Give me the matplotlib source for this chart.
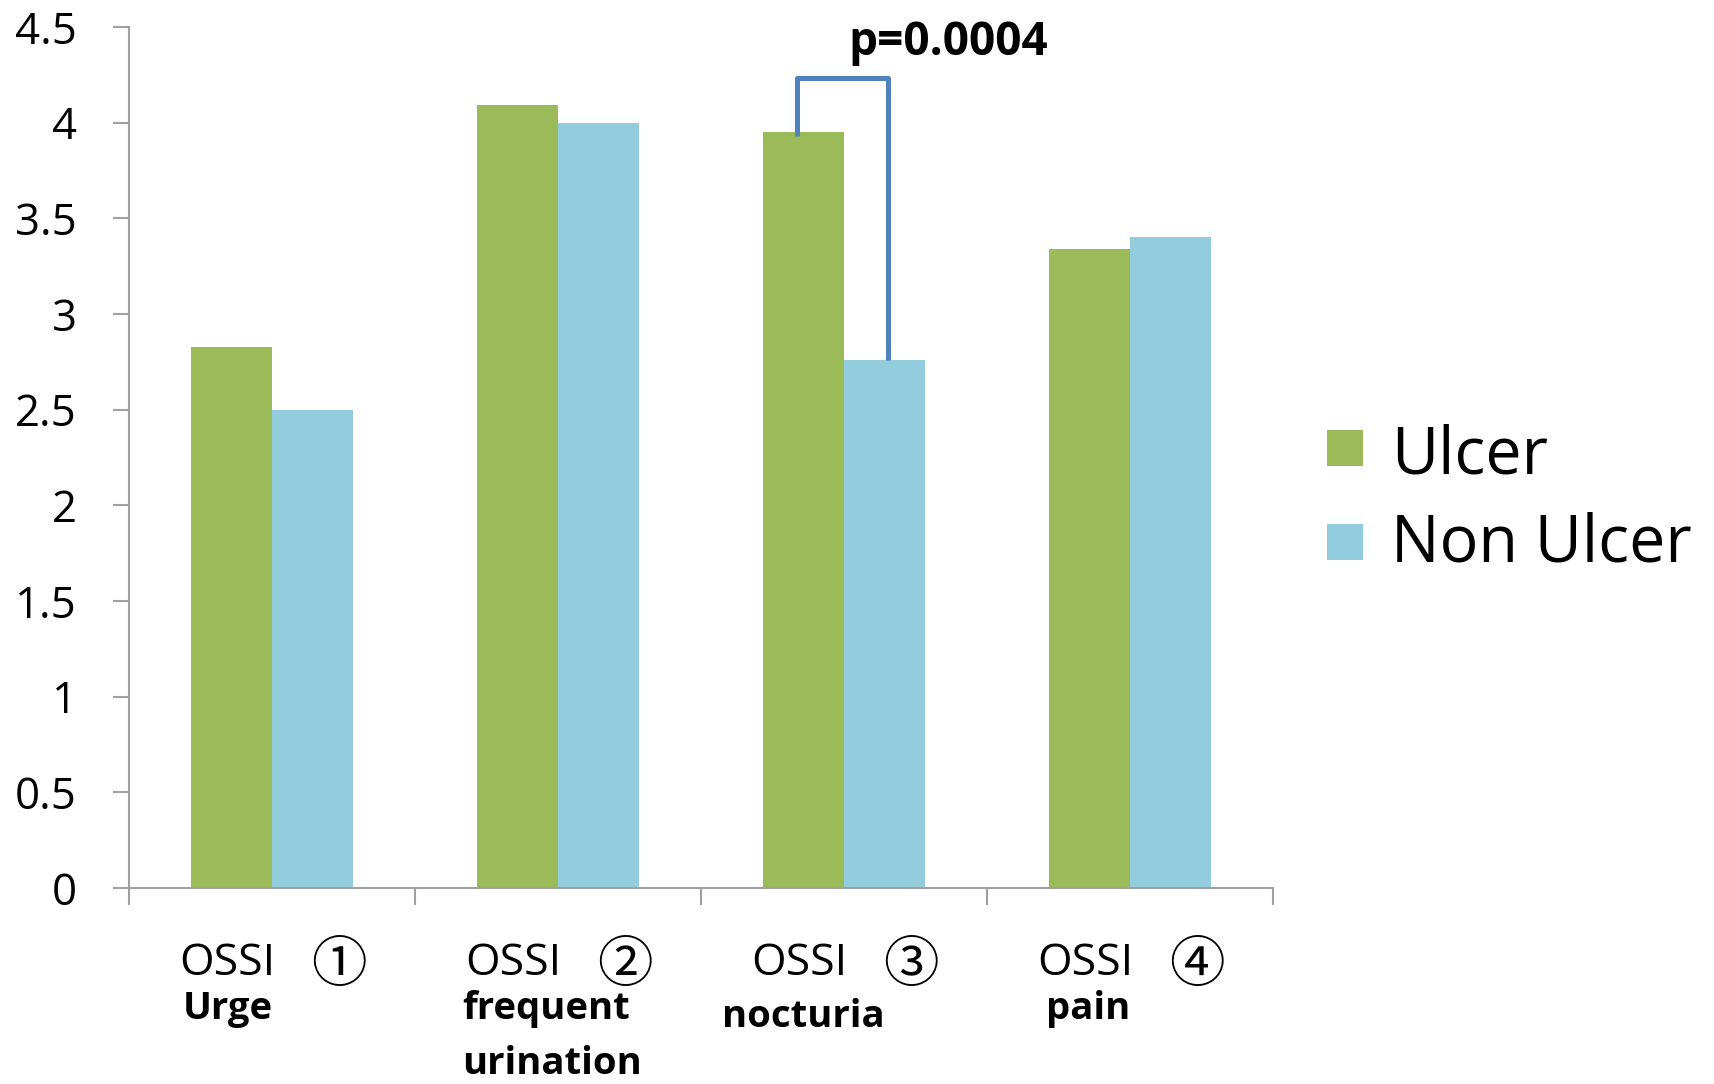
import matplotlib
matplotlib.use("Agg")
import matplotlib.pyplot as plt
from matplotlib.patches import Rectangle
from matplotlib.transforms import blended_transform_factory
import numpy as np

# ---------------- data ----------------
series_names = ["Ulcer", "Non Ulcer"]
ulcer = [2.83, 4.09, 3.95, 3.34]
non_ulcer = [2.50, 4.00, 2.76, 3.40]
cat_prefix = ["OSSI", "OSSI", "OSSI", "OSSI"]
cat_marks = ["\u2460", "\u2461", "\u2462", "\u2463"]
cat_sub = [["Urge"], ["frequent", "urination"], ["nocturia"], ["pain"]]
y_ticks = [0, 0.5, 1, 1.5, 2, 2.5, 3, 3.5, 4, 4.5]
y_tick_labels = ["0", "0.5", "1", "1.5", "2", "2.5", "3", "3.5", "4", "4.5"]
p_label = "p=0.0004"
sig_cat = 2

# ---------------- style / layout ----------------
W, H = 1714, 1084
GREEN = "#9BBB59"
BLUE = "#93CDDD"
BRACKET = "#4F81BD"
AXC = "#A0A0A0"
FONT = ["Open Sans", "Noto Sans CJK JP", "DejaVu Sans"]
plt.rcParams["font.family"] = FONT

def fx(px):
    return px / W

def fy(py):
    return 1 - py / H

fig = plt.figure(figsize=(W / 100, H / 100), dpi=100)
ax = fig.add_axes([fx(129), fy(888), (1273 - 129) / W, (888 - 27) / H])

x = np.arange(len(ulcer))
bw = 0.283
ax.bar(x - bw / 2, ulcer, width=bw, color=GREEN, label=series_names[0], zorder=2)
ax.bar(x + bw / 2, non_ulcer, width=bw, color=BLUE, label=series_names[1], zorder=2)

ax.set_xlim(-0.5, len(ulcer) - 0.5)
ax.set_ylim(0, 4.5)

for s in ["top", "right"]:
    ax.spines[s].set_visible(False)
for s in ["left", "bottom"]:
    ax.spines[s].set_color(AXC)
    ax.spines[s].set_linewidth(1.5)

ax.set_yticks(y_ticks)
ax.set_yticklabels(y_tick_labels, fontsize=31.5, color="black")
ax.tick_params(axis="y", direction="out", length=11.5, width=1.5, color=AXC, pad=26)

ax.set_xticks(np.arange(-0.5, len(ulcer), 1.0))
ax.set_xticklabels([])
ax.tick_params(axis="x", direction="out", length=12, width=1.5, color=AXC)

# category labels
tr = blended_transform_factory(ax.transData, fig.transFigure)
for i, (pre, mk) in enumerate(zip(cat_prefix, cat_marks)):
    ax.text(i - 0.325, fy(975), pre, transform=tr, ha="left", va="baseline",
            fontsize=32, clip_on=False)
    ax.text(i + 0.2325, fy(966), mk, transform=tr, ha="center", va="center",
            fontsize=40, family=["Noto Sans CJK JP", "DejaVu Sans"], clip_on=False)

sub_offsets = [-0.313, -0.336, -0.427, -0.294]
sub_baselines = [[1019], [1019, 1074], [1027], [1019]]
for i, lines in enumerate(cat_sub):
    for j, t in enumerate(lines):
        ax.text(i + sub_offsets[i], fy(sub_baselines[i][j]), t, transform=tr,
                ha="left", va="baseline", fontsize=27.5, fontweight="bold",
                clip_on=False)

# significance bracket
xl = sig_cat - 0.164
xr = sig_cat + 0.154
ytop = 4.234
ax.plot([xl, xl, xr, xr], [ulcer[sig_cat] - 0.02, ytop, ytop, non_ulcer[sig_cat]],
        color=BRACKET, lw=3.6, solid_joinstyle="round", solid_capstyle="butt",
        zorder=3, clip_on=False)
ax.text(sig_cat + 0.364, 4.354, p_label, ha="center", va="baseline",
        fontsize=33, fontweight="bold", clip_on=False)

# legend (manual)
leg_colors = [GREEN, BLUE]
sq_tops = [430, 524]
baselines = [473, 562]
for name, c, st, bl in zip(series_names, leg_colors, sq_tops, baselines):
    fig.add_artist(Rectangle((fx(1327), fy(st + 36)), 36 / W, 36 / H,
                             transform=fig.transFigure, color=c, lw=0))
    fig.text(fx(1391), fy(bl), name, ha="left", va="baseline", fontsize=46.5)

fig.savefig("out.png", dpi=100, facecolor="white")
